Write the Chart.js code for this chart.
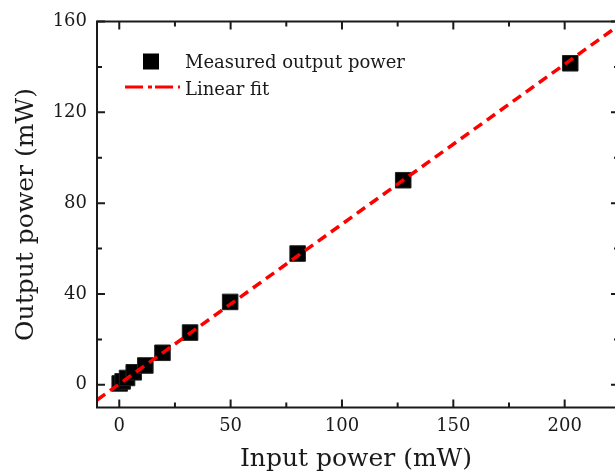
<!DOCTYPE html>
<html>
<head>
<meta charset="utf-8">
<script src="https://cdn.jsdelivr.net/npm/chart.js@4.4.0/dist/chart.umd.min.js"></script>
<style>
  html, body { margin: 0; padding: 0; background: #fff; overflow: hidden; }
</style>
</head>
<body>
<canvas id="power_chart" width="615" height="474"></canvas>
<script>
// measured points (mW)
const inputPower = [0.2, 1.5, 3.5, 6.5, 11.7, 19.4, 31.8, 49.8, 80.1, 127.5, 202.5];
const outputPower = [0.6, 1.5, 3.0, 5.5, 8.5, 14.1, 23.0, 36.5, 57.8, 90.1, 141.6];

// linear fit, read at the two ends of the x range
const fitInput = [-10, 222.6];
const fitOutput = [-6.7, 157.1];

const xTicks = [0, 50, 100, 150, 200];
const yTicks = [0, 40, 80, 120, 160];

const serif = "'DejaVu Serif', serif";

// box frame with inward major + minor ticks; the right side of the
// original figure is cropped, so only the tick stubs show there
const frameTicks = {
  id: "frameTicks",
  afterDraw(chart) {
    const { ctx, chartArea: a, scales } = chart;
    const rightEdge = a.right + 4;
    ctx.save();
    ctx.strokeStyle = "#1a1a1a";
    ctx.lineWidth = 2;
    ctx.beginPath();
    ctx.moveTo(a.right + 2, a.top);
    ctx.lineTo(a.left, a.top);
    ctx.lineTo(a.left, a.bottom);
    ctx.lineTo(a.right + 2, a.bottom);
    ctx.stroke();

    const minorsOf = (vals, min, max) => {
      const step = vals[1] - vals[0];
      let out = [];
      for (let v = vals[0] - step / 2; v <= max; v += step) {
        if (v > min && v < max) out.push(v);
      }
      return out;
    };

    const xs = scales.x, ys = scales.y;
    const draw = (len, xv, yv) => {
      xv.forEach((v) => {
        const px = xs.getPixelForValue(v);
        ctx.beginPath();
        ctx.moveTo(px, a.bottom);
        ctx.lineTo(px, a.bottom - len);
        ctx.moveTo(px, a.top);
        ctx.lineTo(px, a.top + len);
        ctx.stroke();
      });
      yv.forEach((v) => {
        const py = ys.getPixelForValue(v);
        ctx.beginPath();
        ctx.moveTo(a.left, py);
        ctx.lineTo(a.left + len, py);
        ctx.moveTo(rightEdge, py);
        ctx.lineTo(rightEdge - len, py);
        ctx.stroke();
      });
    };
    draw(8, xTicks, yTicks);
    draw(5, minorsOf(xTicks, xs.min, xs.max), minorsOf(yTicks, ys.min, ys.max));
    ctx.restore();
  },
};

// legend drawn inside the plot, upper left
const innerLegend = {
  id: "innerLegend",
  afterDraw(chart) {
    const { ctx, chartArea: a } = chart;
    const pts = chart.data.datasets[1];
    const fit = chart.data.datasets[0];
    const x0 = a.left;
    ctx.save();
    ctx.fillStyle = "#000";
    ctx.fillRect(x0 + 46, a.top + 32, 16, 16);
    ctx.strokeStyle = "#ff0000";
    ctx.lineWidth = 3;
    ctx.setLineDash([18, 5, 4, 3]);
    ctx.beginPath();
    ctx.moveTo(x0 + 28, a.top + 65.5);
    ctx.lineTo(x0 + 83, a.top + 65.5);
    ctx.stroke();
    ctx.setLineDash([]);
    ctx.fillStyle = "#1a1a1a";
    ctx.font = "18px " + serif;
    ctx.textBaseline = "alphabetic";
    ctx.fillText(pts.label, x0 + 88, a.top + 46);
    ctx.fillText(fit.label, x0 + 88, a.top + 73);
    ctx.restore();
  },
};

let ctx = document.getElementById("power_chart").getContext("2d");
let myChart = new Chart(ctx, {
  type: "scatter",
  data: {
    datasets: [
      {
        type: "line",
        label: "Linear fit",
        data: fitInput.map((v, i) => ({ x: v, y: fitOutput[i] })),
        borderColor: "#ff0000",
        borderWidth: 3.5,
        borderDash: [10, 6],
        pointRadius: 0,
        fill: false,
      },
      {
        label: "Measured output power",
        data: inputPower.map((v, i) => ({ x: v, y: outputPower[i] })),
        pointStyle: "rect",
        pointRadius: 11,
        backgroundColor: "#000",
        borderColor: "#222",
        borderWidth: 1,
      },
    ],
  },
  options: {
    responsive: false,
    animation: false,
    layout: {
      autoPadding: false,
      padding: { top: 21.5, right: 0, left: 0, bottom: 0 },
    },
    plugins: {
      legend: { display: false },
      tooltip: { enabled: false },
    },
    scales: {
      x: {
        type: "linear",
        min: -10,
        max: 222.6,
        afterBuildTicks: (s) => { s.ticks = xTicks.map((v) => ({ value: v })); },
        afterFit: (s) => {
          s.height = 66.5;
          s.paddingLeft = 0;
          s.paddingRight = 0;
        },
        grid: { display: false, drawTicks: false },
        border: { display: false },
        ticks: { padding: 8, color: "#1a1a1a", font: { family: serif, size: 18 }, maxRotation: 0 },
        title: {
          display: true,
          text: "Input power (mW)",
          color: "#1a1a1a",
          font: { family: serif, size: 25, lineHeight: 1 },
          padding: { top: 0, bottom: 2 },
        },
      },
      y: {
        type: "linear",
        min: -10,
        max: 160,
        afterBuildTicks: (s) => { s.ticks = yTicks.map((v) => ({ value: v })); },
        afterFit: (s) => {
          s.width = 97;
          s.paddingTop = 0;
          s.paddingBottom = 0;
        },
        grid: { display: false, drawTicks: false },
        border: { display: false },
        ticks: { padding: 10, color: "#1a1a1a", font: { family: serif, size: 18 } },
        title: {
          display: true,
          text: "Output power (mW)",
          color: "#1a1a1a",
          font: { family: serif, size: 25, lineHeight: 1 },
          padding: { top: 14, bottom: 0 },
        },
      },
    },
  },
  plugins: [frameTicks, innerLegend],
});
</script>
</body>
</html>
